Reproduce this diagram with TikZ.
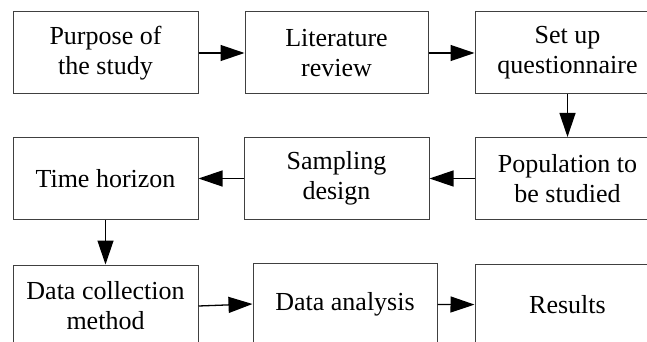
\documentclass[tikz,border=0pt]{standalone}
\usepackage{fontspec}
\setmainfont{Liberation Serif}
\usetikzlibrary{arrows.meta}
\begin{document}
\begin{tikzpicture}[x=1pt,y=-1pt,
  box/.style={draw=black!75, line width=1pt, minimum width=185pt, minimum height=82pt,
    align=center, inner sep=0pt, font=\fontsize{26}{30}\selectfont},
  arr/.style={line width=1.3pt, -{Triangle[length=24pt,width=16pt]}}]
\useasboundingbox (0,0) rectangle (647,342);
\fill[white] (0,0) rectangle (647,342);
\clip (0,0) rectangle (647,342);
% row 1
\node[box] (purpose) at (105.5,53) {Purpose of\\the study};
\node[box, minimum width=183pt] (lit) at (336.5,53) {Literature\\review};
\node[box] (setup) at (567.5,53) {Set up\\questionnaire};
% row 2
\node[box] (pop) at (567.5,178.5) {Population to\\be studied};
\node[box] (samp) at (336.5,178.5) {Sampling\\design};
\node[box] (time) at (105.5,178.5) {Time horizon};
% row 3
\node[box] (coll) at (105.5,306) {Data collection\\method};
\node[box, minimum width=184pt] (anal) at (345,304) {Data analysis};
\node[box] (res) at (567.5,305) {Results};
% connectors
\draw[arr] (purpose) -- (lit);
\draw[arr] (lit) -- (setup);
\draw[arr] (setup) -- (pop);
\draw[arr] (pop) -- (samp);
\draw[arr] (samp) -- (time);
\draw[arr] (time) -- (coll);
\draw[arr] (coll.east) -- (anal.west);
\draw[arr] (anal) -- (res);
\end{tikzpicture}
\end{document}
